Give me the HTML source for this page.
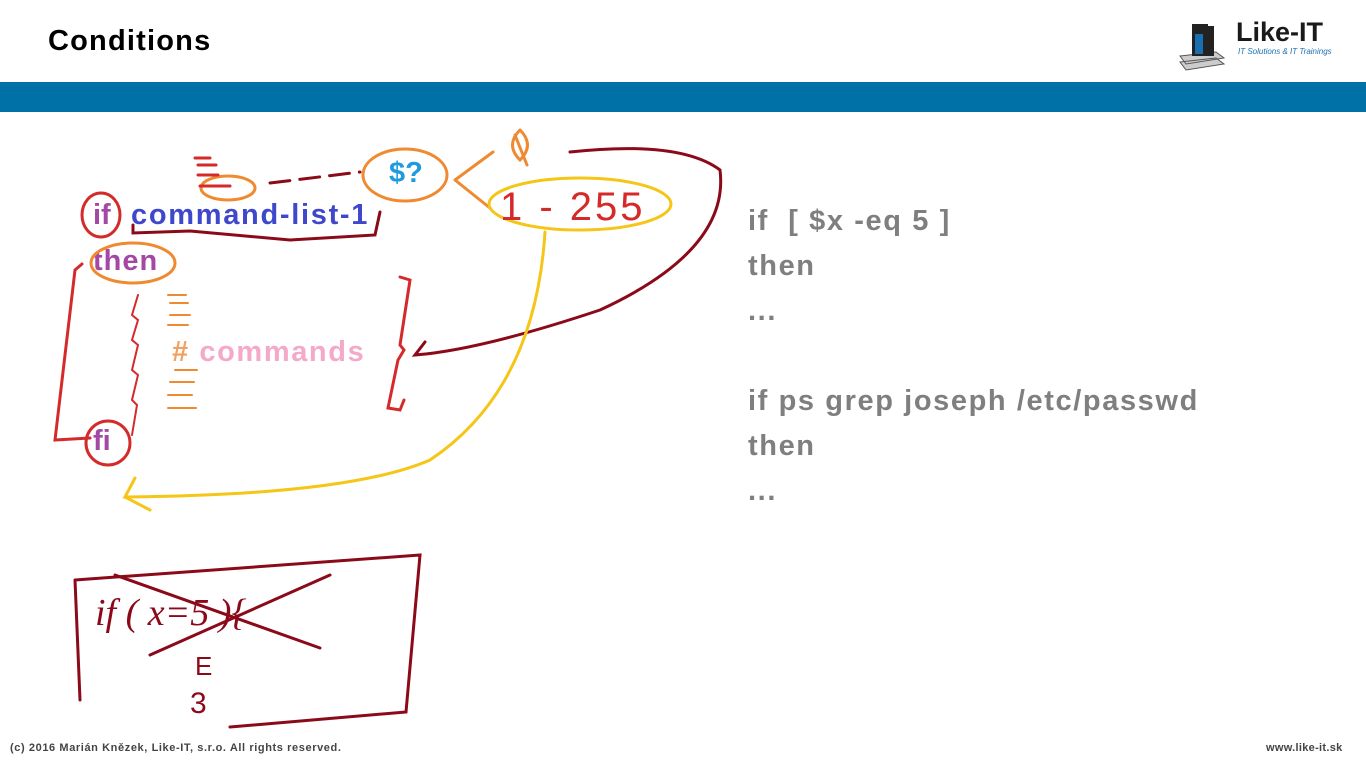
<!DOCTYPE html>
<html><head><meta charset="utf-8"><style>
body{margin:0;width:1366px;height:766px;background:#fff;overflow:hidden;position:relative;font-family:"Liberation Sans",sans-serif}
.t{position:absolute;white-space:pre;font-weight:bold}
</style></head><body>
<div class="t" style="left:48px;top:25px;font-size:29px;color:#000;letter-spacing:1.2px">Conditions</div>
<div style="position:absolute;left:0;top:82px;width:1366px;height:30px;background:#0071a6"></div>
<svg style="position:absolute;left:1176px;top:14px" width="185" height="60">
<path d="M4 48 L40 44 L48 50 L10 56Z M4 42 L40 38 L48 44 L10 50Z" fill="#ccc" stroke="#555"/>
<rect x="16" y="10" width="16" height="32" fill="#222"/><rect x="19" y="20" width="8" height="20" fill="#1a6fb0"/>
<rect x="30" y="12" width="8" height="30" fill="#222"/>
<text x="60" y="27" font-family="Liberation Sans" font-weight="bold" font-size="27" fill="#1a1a1a">Like-IT</text>
<text x="62" y="40" font-family="Liberation Sans" font-style="italic" font-size="8" fill="#1a6fb0">IT Solutions &amp; IT Trainings</text>
</svg>
<div class="t" style="left:748px;top:199px;font-size:29px;color:#7f7f7f;line-height:45px;letter-spacing:1.6px">if  [ $x -eq 5 ]
then
...

if ps grep joseph /etc/passwd
then
...</div>
<div class="t" style="left:93px;top:199px;font-size:29px;color:#a349a4">if</div>
<div class="t" style="left:131px;top:199px;font-size:29px;color:#3f48cc;letter-spacing:1.7px">command-list-1</div>
<div class="t" style="left:93px;top:245px;font-size:29px;color:#a349a4;letter-spacing:1px">then</div>
<div class="t" style="left:172px;top:336px;font-size:29px;color:#f5a9c9;letter-spacing:1.6px"><span style="color:#f0a060">#</span> commands</div>
<div class="t" style="left:93px;top:425px;font-size:29px;color:#a349a4">fi</div>
<div class="t" style="left:389px;top:157px;font-size:29px;color:#1e9be0">$?</div>
<svg style="position:absolute;left:0;top:0" width="1366" height="766" fill="none" stroke-linecap="round" stroke-width="3">
<ellipse cx="101" cy="215" rx="19" ry="22" stroke="#d42a2a"/>
<ellipse cx="133" cy="263" rx="42" ry="20" stroke="#f08a30"/>
<ellipse cx="108" cy="443" rx="22" ry="22" stroke="#d42a2a"/>
<ellipse cx="405" cy="175" rx="42" ry="26" stroke="#f08a30"/>
<ellipse cx="228" cy="188" rx="27" ry="12" stroke="#f08a30"/>
<path d="M195 158h15M198 165h18M198 175h20M200 186h30" stroke="#d42a2a"/>
<path d="M270 183 L360 172" stroke="#8b0a1a" stroke-dasharray="20 10"/>
<path d="M133 225 V233 L190 231 L290 240 L375 235 L380 212" stroke="#8b0a1a"/>
<path d="M82 264 L75 270 L55 440 L90 438" stroke="#d42a2a"/>
<path d="M138 295 l-6 20 l6 5 l-6 20 l6 5 l-6 25 l6 5 l-6 25 l5 5 l-5 30" stroke="#d42a2a" stroke-width="2"/>
<path d="M168 295h18M170 303h18M170 315h20M168 325h20M175 370h22M170 382h24M168 395h24M168 408h28" stroke="#f08a30" stroke-width="2"/>
<path d="M400 277 L410 280 L400 345 L404 350 L398 360 L388 408 L400 410 L404 400" stroke="#d42a2a"/>
<path d="M455 180 L493 152 M455 180 L490 208" stroke="#f08a30"/>
<path d="M520 130 Q535 145 520 160 Q505 145 520 130 M515 135 L527 165" stroke="#f08a30"/>
<ellipse cx="580" cy="204" rx="91" ry="26" stroke="#f5c518"/>
<text x="500" y="220" font-family="Liberation Sans" font-size="40" fill="#d42a2a" stroke="none" letter-spacing="3">1 - 255</text>
<path d="M570 152 Q680 140 720 170 Q730 250 600 310 Q480 350 415 355 L425 342" stroke="#8b0a1a"/>
<path d="M545 232 Q535 390 430 460 Q350 495 125 497 L135 478 M125 497 L150 510" stroke="#f5c518"/>
<path d="M75 580 L420 555 L406 712 L230 727 M75 580 L80 700" stroke="#8b0a1a"/>
<path d="M115 575 L320 648 M150 655 L330 575" stroke="#8b0a1a"/>
<text x="95" y="625" font-family="Liberation Serif" font-style="italic" font-size="38" fill="#8b0a1a" stroke="none">if ( x=5 ){</text>
<text x="195" y="675" font-family="Liberation Sans" font-size="26" fill="#8b0a1a" stroke="none">E</text>
<text x="190" y="713" font-family="Liberation Sans" font-size="30" fill="#8b0a1a" stroke="none">3</text>
</svg>
<div class="t" style="left:10px;top:742px;font-size:11px;color:#444;letter-spacing:0.6px">(c) 2016 Marián Knězek, Like-IT, s.r.o. All rights reserved.</div>
<div class="t" style="left:1266px;top:742px;font-size:11px;color:#444;letter-spacing:0.3px">www.like-it.sk</div>
</body></html>
